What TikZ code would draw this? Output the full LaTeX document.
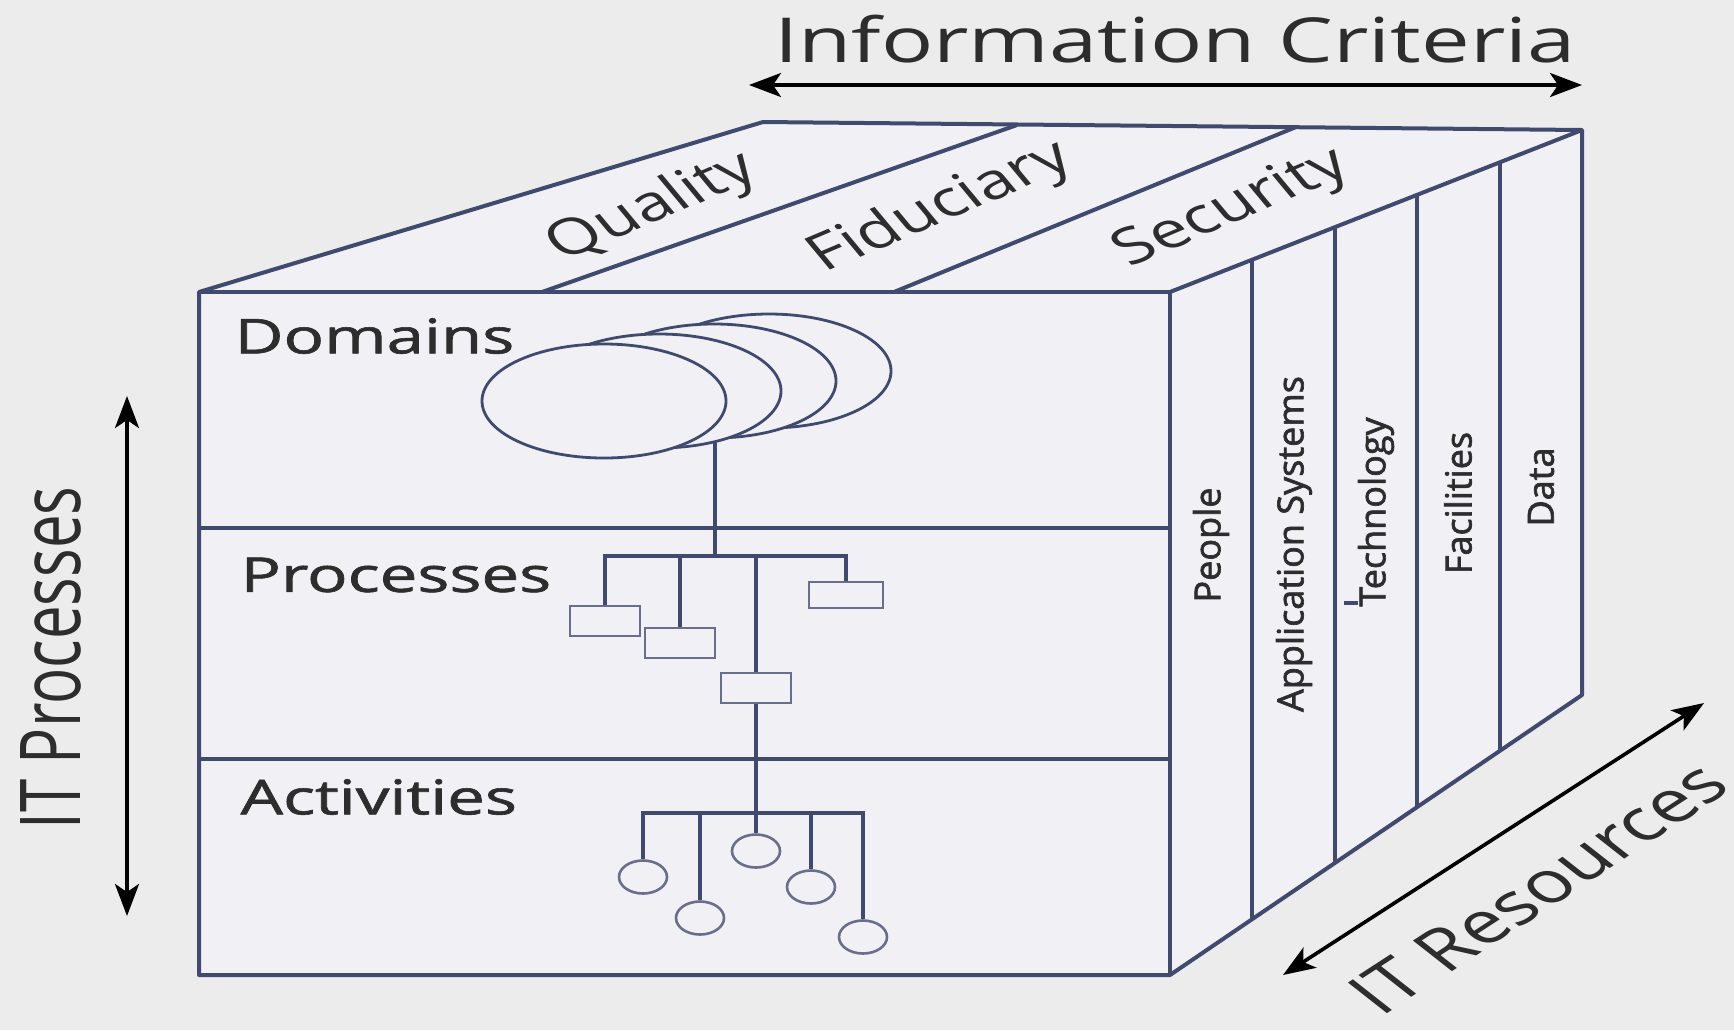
\documentclass[tikz,border=0pt]{standalone}
\usepackage{fontspec}
\setmainfont{Open Sans}
\newfontfamily\facefont{Open Sans}[FakeBold=1.2]
\newfontfamily\narrowfont{Open Sans}[FakeBold=1.8]
\usepackage{tikz}
\usetikzlibrary{arrows.meta, calc, shapes.geometric, positioning}

\definecolor{paper}{RGB}{236,236,236}
\definecolor{faceclr}{RGB}{241,241,245}
\definecolor{edgeclr}{RGB}{64,74,110}
\definecolor{boxclr}{RGB}{104,110,140}
\definecolor{inkclr}{RGB}{45,45,45}

\begin{document}
\begin{tikzpicture}[x=0.5pt, y=-0.5pt, >={Stealth[length=16pt, width=12pt, inset=4pt]},
    cubeline/.style={edgeclr, line width=2pt, line join=round},
    branch/.style={edgeclr, line width=1.7pt},
    domainoval/.style={ellipse, draw=edgeclr, fill=faceclr, line width=1.4pt, minimum width=122pt, minimum height=57pt, inner sep=0pt},
    procbox/.style={rectangle, draw=boxclr, fill=faceclr, line width=1.3pt, minimum width=35pt, minimum height=15pt, inner sep=0pt},
    actdot/.style={ellipse, draw=boxclr, fill=faceclr, line width=1.3pt, minimum width=24pt, minimum height=16.5pt, inner sep=0pt},
    axisarrow/.style={black, line width=1.8pt, <->},
    layername/.style={font=\facefont\fontsize{24}{28}\selectfont, text=inkclr, anchor=west, inner sep=0pt, xscale=1.4},
    reslabel/.style={font=\narrowfont\fontsize{18}{20}\selectfont, text=inkclr, rotate=90, inner sep=0pt},
    critlabel/.style={font=\fontsize{25}{30}\selectfont, text=inkclr, xscale=1.4, rotate=30.7, inner sep=0pt},
    axislabel/.style={font=\fontsize{30}{36}\selectfont, text=inkclr, inner sep=0pt, xscale=1.4}]

  % BACKGROUND
  \fill[paper] (0,0) rectangle (1734,1030);
  \useasboundingbox (0,0) rectangle (1734,1030);

  % CUBE CORNERS
  \coordinate (A) at (199,292);   % front top left
  \coordinate (B) at (1170,292);  % front top right
  \coordinate (C) at (1170,975);  % front bottom right
  \coordinate (D) at (199,975);   % front bottom left
  \coordinate (E) at (763,122);   % back top left
  \coordinate (F) at (1582,130);  % back top right
  \coordinate (G) at (1582,695);  % back bottom right

  % FACES
  \fill[faceclr] (A) -- (E) -- (F) -- (G) -- (C) -- (D) -- cycle;
  \draw[cubeline] (A) -- (E) -- (F) -- (G) -- (C) -- (D) -- cycle;
  \draw[cubeline] (A) -- (B) -- (C);
  \draw[cubeline] (B) -- (F);

  % Information criteria (top)
  \draw[cubeline] (542,292) -- (1017,125);
  \draw[cubeline] (894,292) -- (1296,127);
  \node[critlabel] (quality) at (653,208) {Quality};
  \node[critlabel] (fiduciary) at (941,208) {Fiduciary};
  \node[critlabel] (security) at (1233,209) {Security};

  % IT processes (front)
  \draw[cubeline] (199,528) -- (1170,528);
  \draw[cubeline] (199,759) -- (1170,759);
  \node[layername] (domains) at (234,336) {Domains};
  \node[layername] (processes) at (240,575) {Processes};
  \node[layername] (activities) at (240,797) {Activities};

  % IT resources (right side)
  \foreach \t in {0.2,0.4,0.6,0.8}
    \draw[cubeline] ($(B)!\t!(F)$) -- ($(C)!\t!(G)$);
  \draw[cubeline] (1344,603) -- (1358,603);
  \node[reslabel] (people) at (1211,545) {People};
  \node[reslabel] (appsys) at (1294,544) {Application Systems};
  \node[reslabel] (tech) at (1376,512) {Technology};
  \node[reslabel] (facil) at (1458,503) {Facilities};
  \node[reslabel] (data) at (1541,487) {Data};

  % Domains
  \foreach \i/\x/\y in {4/769/371, 3/714/381, 2/659/391, 1/604/401}
    \node[domainoval] (dom\i) at (\x,\y) {};

  % Processes
  \coordinate (pjoin) at (714,556);
  \node[procbox] (p1) at (605,621) {};
  \node[procbox] (p2) at (680,643) {};
  \node[procbox] (p3) at (756,688) {};
  \node[procbox, minimum width=37pt, minimum height=13pt] (p4) at (846,595) {};
  \draw[branch] (dom2.-43) -- (dom2.-43 |- pjoin);
  \draw[branch] (p1.north) |- (pjoin) -| (p4.north);
  \draw[branch] (p2.north) -- (p2.north |- pjoin);
  \draw[branch] (p3.north) -- (p3.north |- pjoin);

  % Activities
  \coordinate (ajoin) at (756,813);
  \node[actdot] (a1) at (643,877) {};
  \node[actdot] (a2) at (700,918) {};
  \node[actdot] (a3) at (756,851) {};
  \node[actdot] (a4) at (811,887) {};
  \node[actdot] (a5) at (863,937) {};
  \draw[branch] (p3.south) -- (a3.north);
  \draw[branch] (a1.north) |- (ajoin) -| (a5.north);
  \draw[branch] (a2.north) -- (a2.north |- ajoin);
  \draw[branch] (a4.north) -- (a4.north |- ajoin);

  % AXES
  \coordinate (critL) at (749,85);
  \coordinate (critR) at (1582,85);
  \draw[axisarrow] (critL) -- (critR);
  \node[axislabel, font=\fontsize{31}{36}\selectfont] (critname) at (1175,39) {Information Criteria};

  \coordinate (procT) at (127,396);
  \coordinate (procB) at (127,916);
  \draw[axisarrow] (procT) -- (procB);
  \node[axislabel, rotate=90] (procname) at (51,658) {IT Processes};

  \coordinate (resL) at (1283,975);
  \coordinate (resR) at (1704,703);
  \draw[axisarrow] (resL) -- (resR);
  \node[axislabel, font=\fontsize{29}{34}\selectfont, rotate=42.3] (resname) at (1538,888) {IT Resources};
\end{tikzpicture}
\end{document}
